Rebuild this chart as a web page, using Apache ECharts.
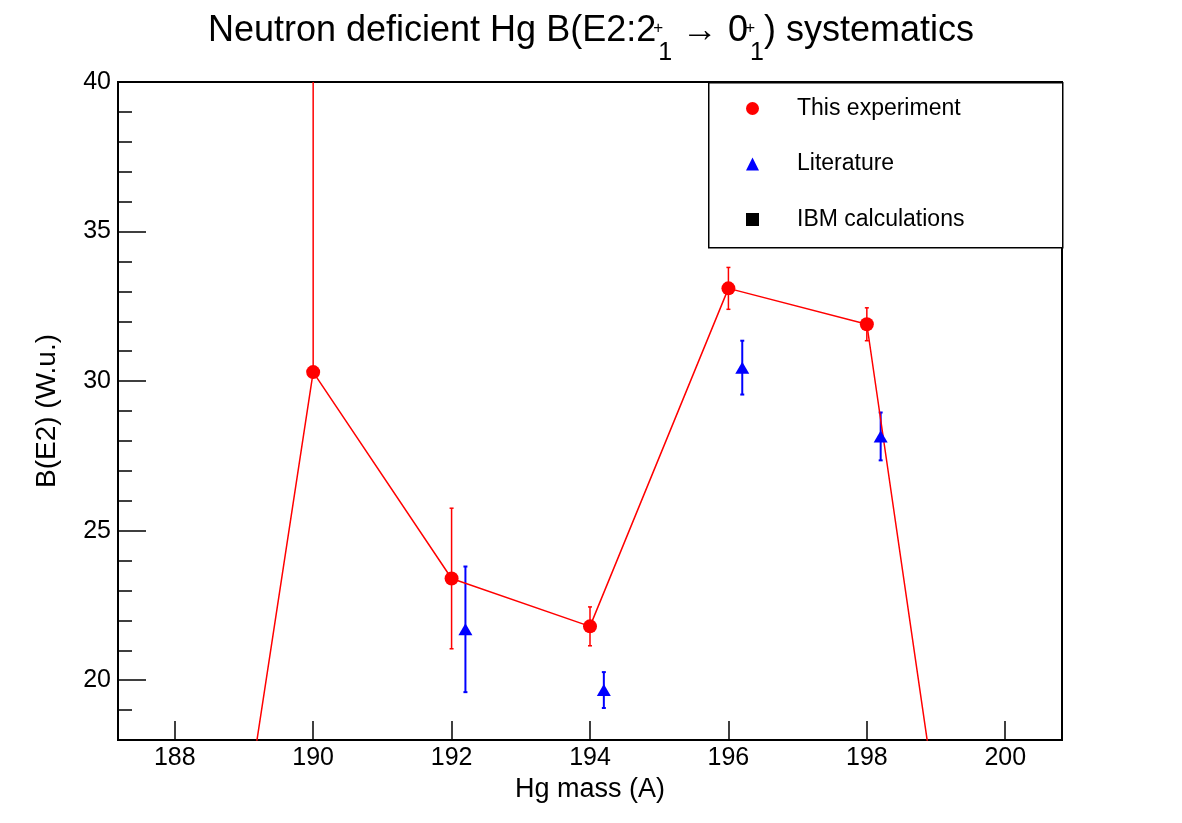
<!DOCTYPE html>
<html>
<head>
<meta charset="utf-8">
<script src="https://cdn.jsdelivr.net/npm/echarts@6/dist/echarts.min.js"></script>
<style>
html,body{margin:0;padding:0;background:#fff;}
#chart{width:1182px;height:823px;}
</style>
</head>
<body>
<div id="chart"></div>
<script>
// ---- data ----
const expX = [188, 190, 192, 194, 196, 198, 200];
const expY = [0, 30.3, 23.4, 21.8, 33.1, 31.9, 0];
const expErrLow = [0, 0, 2.35, 0.65, 0.7, 0.55, 0];
const expErrHigh = [0, 12, 2.35, 0.65, 0.7, 0.55, 0];

const litX = [192.2, 194.2, 196.2, 198.2];
const litY = [21.7, 19.67, 30.45, 28.15];
const litErr = [2.1, 0.6, 0.9, 0.8];

const ibmX = [];
const ibmY = [];

const xTicks = [188, 190, 192, 194, 196, 198, 200];
const yMajorTicks = [20, 25, 30, 35, 40];
const yMinorTicks = [19, 21, 22, 23, 24, 26, 27, 28, 29, 31, 32, 33, 34, 36, 37, 38, 39];
const xRange = [187.18, 200.82];
const yRange = [18, 40];

const FONT = "'Liberation Sans', Arial, Helvetica, sans-serif";

const expPts = expX.map((x, i) => [x, expY[i]]);
const expErr = expX.map((x, i) => [x, expY[i] - expErrLow[i], expY[i] + expErrHigh[i]])
  .filter((d, i) => expErrLow[i] > 0 || expErrHigh[i] > 0);
const litPts = litX.map((x, i) => [x, litY[i]]);
const litErrData = litX.map((x, i) => [x, litY[i] - litErr[i], litY[i] + litErr[i]]);
const ibmPts = ibmX.map((x, i) => [x, ibmY[i]]);

function errRender(color, width) {
  return function (params, api) {
    const x = api.value(0);
    const lo = api.coord([x, api.value(1)]);
    const hi = api.coord([x, api.value(2)]);
    const c = 2;
    const st = { stroke: color, lineWidth: width };
    return {
      type: 'group',
      children: [
        { type: 'line', shape: { x1: lo[0], y1: lo[1], x2: hi[0], y2: hi[1] }, style: st },
        { type: 'line', shape: { x1: lo[0] - c, y1: lo[1], x2: lo[0] + c, y2: lo[1] }, style: st },
        { type: 'line', shape: { x1: hi[0] - c, y1: hi[1], x2: hi[0] + c, y2: hi[1] }, style: st }
      ]
    };
  };
}

const chart = echarts.init(document.getElementById('chart'), null, { renderer: 'canvas' });
chart.setOption({
  animation: false,
  backgroundColor: '#fff',
  title: {
    left: 'center',
    top: 13,
    padding: 0,
    text: '{a|Neutron deficient Hg B(E2:2}{sp|+}{sb|1}{a| \u2192 0}{sp|+}{sb|1}{a|) systematics}',
    textStyle: {
      fontFamily: FONT,
      fontWeight: 'normal',
      rich: {
        a: { fontFamily: FONT, fontWeight: 'normal', fontSize: 36, lineHeight: 36, verticalAlign: 'top', color: '#000' },
        sp: { fontFamily: FONT, fontWeight: 'normal', fontSize: 17, lineHeight: 17, verticalAlign: 'top', padding: [7, 0, 0, 2], width: 0, color: '#000' },
        sb: { fontFamily: FONT, fontWeight: 'normal', fontSize: 25, lineHeight: 25, verticalAlign: 'top', padding: [28, 0, 0, 0], color: '#000' }
      }
    }
  },
  grid: {
    left: 118, right: 120, top: 82, bottom: 83,
    show: true, borderColor: '#000', borderWidth: 2, backgroundColor: 'transparent'
  },
  graphic: [{
    type: 'rect', left: 708, top: 82, z: 1,
    shape: { width: 354, height: 165 },
    style: { fill: '#fff', stroke: '#000', lineWidth: 1.5 }
  }],
  legend: {
    orient: 'vertical',
    left: 746, top: 97,
    padding: 0,
    itemWidth: 13, itemHeight: 13,
    itemGap: 32.5,
    selectedMode: false,
    textStyle: { fontFamily: FONT, fontSize: 23, lineHeight: 23, color: '#000', padding: [0, 0, 0, 33] },
    data: [
      { name: 'This experiment', icon: 'circle' },
      { name: 'Literature', icon: 'triangle' },
      { name: 'IBM calculations', icon: 'rect' }
    ]
  },
  xAxis: {
    type: 'value', min: xRange[0], max: xRange[1],
    name: 'Hg mass (A)', nameLocation: 'middle', nameGap: 30,
    nameTextStyle: { fontFamily: FONT, fontSize: 27, color: '#000' },
    axisLine: { show: true, onZero: false, lineStyle: { color: '#000', width: 2 } },
    axisTick: { show: true, inside: true, length: 19, customValues: xTicks, lineStyle: { color: '#000', width: 1.5 } },
    axisLabel: { customValues: xTicks, fontFamily: FONT, fontSize: 25, color: '#000', margin: 6 },
    splitLine: { show: false }
  },
  yAxis: [{
    type: 'value', min: yRange[0], max: yRange[1], position: 'left',
    name: 'B(E2) (W.u.)', nameLocation: 'middle', nameGap: 57,
    nameTextStyle: { fontFamily: FONT, fontSize: 28, color: '#000' },
    axisLine: { show: true, onZero: false, lineStyle: { color: '#000', width: 2 } },
    axisTick: { show: true, inside: true, length: 28, customValues: yMajorTicks, lineStyle: { color: '#000', width: 1.5 } },
    axisLabel: { customValues: yMajorTicks, fontFamily: FONT, fontSize: 25, color: '#000', margin: 7 },
    splitLine: { show: false }
  }, {
    type: 'value', min: yRange[0], max: yRange[1], position: 'left', offset: 0,
    axisLine: { show: false },
    axisTick: { show: true, inside: true, length: 14, customValues: yMinorTicks, lineStyle: { color: '#000', width: 1.5 } },
    axisLabel: { show: false, customValues: yMinorTicks },
    splitLine: { show: false }
  }],
  series: [{
    name: 'This experiment',
    type: 'line',
    data: expPts,
    color: '#ff0000',
    symbol: 'circle', symbolSize: 14,
    itemStyle: { color: '#ff0000', opacity: 1 },
    lineStyle: { color: '#ff0000', width: 1.5 },
    clip: true,
    z: 4
  }, {
    name: 'expErr',
    type: 'custom',
    data: expErr,
    clip: true,
    renderItem: errRender('#ff0000', 1.5),
    z: 3
  }, {
    name: 'Literature',
    type: 'scatter',
    data: litPts,
    color: '#0000ff',
    symbol: 'triangle', symbolSize: [14, 12],
    itemStyle: { color: '#0000ff', opacity: 1 },
    clip: true,
    z: 4
  }, {
    name: 'litErr',
    type: 'custom',
    data: litErrData,
    clip: true,
    renderItem: errRender('#0000ff', 2),
    z: 3
  }, {
    name: 'IBM calculations',
    type: 'scatter',
    data: ibmPts,
    color: '#000000',
    symbol: 'rect', symbolSize: 12,
    itemStyle: { color: '#000000', opacity: 1 },
    z: 4
  }]
});
</script>
</body>
</html>
